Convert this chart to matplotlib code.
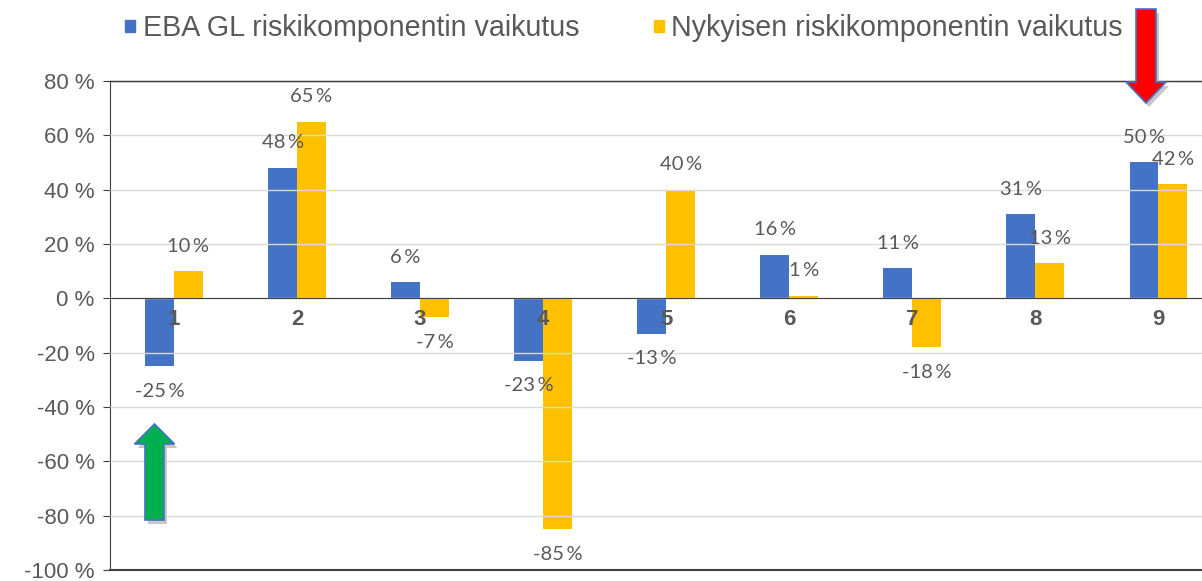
import matplotlib.pyplot as plt
import numpy as np
from matplotlib.patches import Polygon
from matplotlib.patches import Patch

categories = ["1", "2", "3", "4", "5", "6", "7", "8", "9"]
eba_gl = [-25, 48, 6, -23, -13, 16, 11, 31, 50]
nykyinen = [10, 65, -7, -85, 40, 1, -18, 13, 42]
series_names = ["EBA GL riskikomponentin vaikutus", "Nykyisen riskikomponentin vaikutus"]
yticks = [80, 60, 40, 20, 0, -20, -40, -60, -80, -100]

BLUE = "#4472C4"
YELLOW = "#FFC000"
GREY = "#595959"

W, H = 1202, 581
fig = plt.figure(figsize=(W / 100, H / 100), dpi=100)
ax = fig.add_axes([110 / W, 1 - 570 / H, 1110 / W, 489 / H])

x = np.arange(len(categories))
bw = 0.235
ax.bar(x - bw / 2, eba_gl, bw, color=BLUE, zorder=2)
ax.bar(x + bw / 2, nykyinen, bw, color=YELLOW, zorder=2)

ax.set_xlim(-0.52, len(categories) - 0.5)
ax.set_ylim(-100, 80)
ax.set_yticks(yticks)
ax.set_yticklabels([f"{v} %" for v in yticks], fontsize=16, color=GREY,
                   family="Liberation Sans")
ax.tick_params(axis="y", length=5, color="#404040", pad=6)
ax.grid(axis="y", color="#D9D9D9", lw=1, zorder=0)
ax.set_axisbelow(False)

# x-akseli nollatasolle, luokkien numerot palkkien päälle
ax.spines["bottom"].set_position(("data", 0))
ax.spines["bottom"].set_color("#404040")
ax.spines["bottom"].set_zorder(4)
ax.set_xticks(x)
ax.set_xticklabels(categories, fontsize=16, fontweight="bold", color=GREY,
                   family="Liberation Sans")
ax.tick_params(axis="x", length=0, pad=8)
ax.xaxis.set_zorder(4)
for s in ["left", "top"]:
    ax.spines[s].set_color("#404040")
ax.spines["right"].set_visible(False)
ax.axhline(-100, color="#404040", lw=1.5, zorder=4, clip_on=False)
ax.axhline(80, color="#404040", lw=1, zorder=4, clip_on=False)
for gl in ax.get_ygridlines():
    gl.set_zorder(0)

# arvot palkkien päälle/alle
for xs, vals in [(x - bw / 2, eba_gl), (x + bw / 2, nykyinen)]:
    for xi, v in zip(xs, vals):
        off = 18 if v >= 0 else -18
        ax.annotate(f"{v}\u2009%", (xi, v), xytext=(0, off), textcoords="offset points",
                    ha="center", va="center", fontsize=14.5, color=GREY, family="Lato",
                    zorder=5)

handles = [Patch(color=BLUE), Patch(color=YELLOW)]
fig.legend(handles, series_names, loc="center", bbox_to_anchor=(0.519, 0.951), ncol=2,
           frameon=False, handlelength=0.35, handleheight=0.25,
           handletextpad=0.25, columnspacing=2.6, labelcolor=GREY,
           prop={"family": "Liberation Sans", "size": 20.6})


def arrow(cx, y_tail, y_tip, shaft_w, head_w, head_len, color):
    d = 1 if y_tip > y_tail else -1
    yb = y_tip - d * head_len
    pts = [(cx - shaft_w / 2, y_tail), (cx - shaft_w / 2, yb), (cx - head_w / 2, yb),
           (cx, y_tip), (cx + head_w / 2, yb), (cx + shaft_w / 2, yb),
           (cx + shaft_w / 2, y_tail)]
    sh = [(px + 3, py + 4) for px, py in pts]
    for p, fc, ec, z in [(sh, "#C8C8C8", "none", 8), (pts, color, "#4472C4", 9)]:
        fig.add_artist(Polygon([(px / W, 1 - py / H) for px, py in p], closed=True,
                               facecolor=fc, edgecolor=ec, lw=1.2,
                               transform=fig.transFigure, zorder=z))


arrow(154.5, 520, 424, 19, 40, 20, "#00B050")
arrow(1146, 9, 103, 20, 40, 21, "#FF0000")

fig.savefig("out.png", dpi=100)
